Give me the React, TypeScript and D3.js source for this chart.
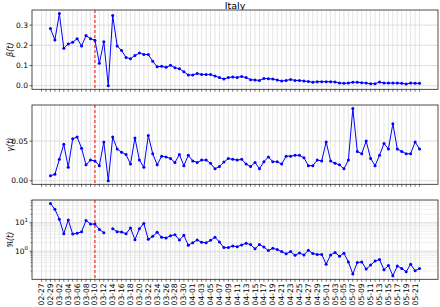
import React from "react";
import * as d3 from "d3";

// ---- data ----
const startDate = "2020-02-29";
const tickStart = "2020-02-27";
const tickEnd = "2020-05-22";
const lockdownDate = "2020-03-10";
const title = "Italy";

const beta: number[] = [
  0.283, 0.226, 0.357, 0.185, 0.207, 0.215, 0.233, 0.197, 0.248, 0.233,
  0.225, 0.111, 0.218, 0.0, 0.347, 0.197, 0.174, 0.14, 0.134, 0.149,
  0.162, 0.155, 0.154, 0.121, 0.094, 0.096, 0.091, 0.101, 0.089, 0.084,
  0.069, 0.053, 0.053, 0.06, 0.056, 0.055, 0.055, 0.048, 0.04,
  0.033, 0.041, 0.043, 0.041, 0.046, 0.04, 0.03, 0.028, 0.026, 0.036,
  0.035, 0.033, 0.028, 0.023, 0.026, 0.031, 0.026, 0.026, 0.023, 0.021,
  0.017, 0.02, 0.02, 0.02, 0.02, 0.018, 0.013, 0.012, 0.013, 0.017,
  0.017, 0.015, 0.013, 0.01, 0.01, 0.018, 0.013, 0.013, 0.013, 0.013,
  0.012, 0.008, 0.013, 0.012, 0.012,
];

const gamma: number[] = [
  0.0063, 0.008, 0.027, 0.046, 0.017, 0.053, 0.055, 0.041, 0.02, 0.026,
  0.025, 0.019, 0.049, 0.0, 0.055, 0.04, 0.036, 0.033, 0.021, 0.054,
  0.026, 0.017, 0.057, 0.034, 0.02, 0.031, 0.03, 0.028, 0.023, 0.033,
  0.019, 0.032, 0.025, 0.023, 0.026, 0.026, 0.022, 0.015, 0.018,
  0.0235, 0.028, 0.027, 0.026, 0.027, 0.021, 0.018, 0.023, 0.015, 0.024,
  0.03, 0.024, 0.024, 0.021, 0.031, 0.031, 0.032, 0.032, 0.029, 0.019,
  0.019, 0.026, 0.025, 0.049, 0.025, 0.022, 0.02, 0.015, 0.026, 0.091,
  0.037, 0.034, 0.05, 0.028, 0.019, 0.032, 0.047, 0.04, 0.072, 0.04,
  0.037, 0.034, 0.034, 0.049, 0.04,
];

const repro: (number | null)[] = [
  47.2, 30, 13.4, 4.13, 12.4, 4.03, 4.25, 4.85, 12.1, 8.98,
  8.98, 5.85, 4.48, null, 6.17, 4.85, 4.72, 4.13, 6.52, 2.55,
  6.17, 9.5, 2.62, 3.34, 4.6, 3.08, 2.92, 3.52, 3.81, 2.48,
  3.61, 1.62, 2.0, 2.48, 2.06, 2.0, 2.42, 3.08, 2.12,
  1.34, 1.34, 1.53, 1.45, 1.66, 1.9, 1.71, 1.21, 1.71, 1.41,
  1.05, 1.27, 1.14, 0.97, 0.81, 0.97, 0.72, 0.87, 0.74, 1.08,
  0.83, 0.77, 0.77, 0.35, 0.74, 0.9, 0.67, 0.85, 0.42, 0.158,
  0.4, 0.42, 0.235, 0.325, 0.45, 0.51, 0.223, 0.316, 0.138, 0.3,
  0.248, 0.19, 0.35, 0.206, 0.248,
];

const betaTicks = [0.0, 0.1, 0.2, 0.3];
const gammaTicks = [0.0, 0.05];
const reproTicks = [1, 10];

// ---- layout ----
const W = 440;
const H = 307;
const left = 32;
const right = 438;
const panels = [
  { top: 10, bottom: 89.3 },
  { top: 105, bottom: 184.3 },
  { top: 200, bottom: 279.3 },
];
const FONT = "DejaVu Sans, sans-serif";
const parse = d3.timeParse("%Y-%m-%d");
const fmt = d3.timeFormat("%m-%d");

const t0 = parse(startDate)!;
const dates = beta.map((_, i) => d3.timeDay.offset(t0, i));
const tickDates = d3.timeDay.range(parse(tickStart)!, d3.timeDay.offset(parse(tickEnd)!, 1));

const firstD = dates[0];
const lastD = dates[dates.length - 1];
const spanMs = +lastD - +firstD;
const x = d3
  .scaleTime()
  .domain([new Date(+firstD - spanMs * 0.05), new Date(+lastD + spanMs * 0.05)])
  .range([left, right]);

function linDomain(vals: number[]): [number, number] {
  const [mn, mx] = d3.extent(vals) as [number, number];
  const m = (mx - mn) * 0.05;
  return [mn - m, mx + m];
}
function logDomain(vals: number[]): [number, number] {
  const lv = vals.map((v) => Math.log10(v));
  const [mn, mx] = d3.extent(lv) as [number, number];
  const m = (mx - mn) * 0.05;
  return [Math.pow(10, mn - m), Math.pow(10, mx + m)];
}

const yBeta = d3.scaleLinear().domain(linDomain(beta)).range([panels[0].bottom, panels[0].top]);
const yGamma = d3.scaleLinear().domain(linDomain(gamma)).range([panels[1].bottom, panels[1].top]);
const rVals = repro.filter((v): v is number => v != null);
const yR = d3.scaleLog().domain(logDomain(rVals)).range([panels[2].bottom, panels[2].top]);

const minorLog: number[] = [];
for (let e = -2; e <= 2; e++) {
  for (let k = 2; k <= 9; k++) {
    const v = k * Math.pow(10, e);
    const [a, b] = yR.domain();
    if (v > a && v < b) minorLog.push(v);
  }
}

type Series = (number | null)[];

function Panel({
  idx,
  values,
  y,
  ticks,
  minor,
  label,
  tickLabel,
  showX,
}: {
  idx: number;
  values: Series;
  y: (v: number) => number;
  ticks: number[];
  minor?: number[];
  label: string;
  tickLabel: (v: number) => React.ReactNode;
  showX: boolean;
}) {
  const { top, bottom } = panels[idx];
  const line = d3
    .line<number | null>()
    .defined((d) => d != null)
    .x((_, i) => x(dates[i]))
    .y((d) => y(d as number));
  const xl = x(parse(lockdownDate)!);
  const cy = (top + bottom) / 2;
  return (
    <g>
      <rect x={left} y={top} width={right - left} height={bottom - top} fill="#fff" />
      {(minor || []).map((v, i) => (
        <line key={"mg" + i} x1={left} x2={right} y1={y(v)} y2={y(v)} stroke="#e6e6e6" strokeWidth={0.6} />
      ))}
      {tickDates.map((d, i) => (
        <line key={"vg" + i} x1={x(d)} x2={x(d)} y1={top} y2={bottom} stroke="#d8d8d8" strokeWidth={0.7} />
      ))}
      {ticks.map((v, i) => (
        <line key={"hg" + i} x1={left} x2={right} y1={y(v)} y2={y(v)} stroke="#d6d6d6" strokeWidth={0.8} />
      ))}
      <line x1={xl} x2={xl} y1={top} y2={bottom} stroke="#ff0000" strokeWidth={1} strokeDasharray="3,2" />
      <path d={line(values) || ""} fill="none" stroke="#0000ff" strokeWidth={1} />
      {values.map((v, i) =>
        v == null ? null : <circle key={"p" + i} cx={x(dates[i])} cy={y(v)} r={1.5} fill="#0000ff" />
      )}
      <rect x={left} y={top} width={right - left} height={bottom - top} fill="none" stroke="#222" strokeWidth={0.8} />
      {tickDates.map((d, i) => (
        <line key={"xt" + i} x1={x(d)} x2={x(d)} y1={bottom} y2={bottom + 2.5} stroke="#222" strokeWidth={0.6} />
      ))}
      {showX &&
        tickDates.map((d, i) =>
          i % 2 === 0 ? (
            <text
              key={"xl" + i}
              transform={`translate(${x(d)},${bottom + 4}) rotate(-90)`}
              textAnchor="end"
              dominantBaseline="central"
              fontFamily={FONT}
              fontSize={7.6}
              fill="#000"
            >
              {fmt(d)}
            </text>
          ) : null
        )}
      {(minor || []).map((v, i) => (
        <line key={"myt" + i} x1={left - 1.5} x2={left} y1={y(v)} y2={y(v)} stroke="#222" strokeWidth={0.5} />
      ))}
      {ticks.map((v, i) => (
        <g key={"yt" + i}>
          <line x1={left - 2.5} x2={left} y1={y(v)} y2={y(v)} stroke="#222" strokeWidth={0.7} />
          <text x={left - 4} y={y(v)} textAnchor="end" dominantBaseline="central" fontFamily={FONT} fontSize={7.5} fill="#000">
            {tickLabel(v)}
          </text>
        </g>
      ))}
      <text
        transform={`translate(10,${cy}) rotate(-90)`}
        textAnchor="middle"
        dominantBaseline="central"
        fontFamily={FONT}
        fontSize={8}
        fontStyle="italic"
        fill="#000"
      >
        {label}
      </text>
    </g>
  );
}

export default function App() {
  return (
    <div style={{ position: "fixed", left: 0, top: 0 }}>
      <svg width={W} height={H} viewBox={`0 0 ${W} ${H}`} style={{ display: "block", background: "#fff" }}>
        <rect width={W} height={H} fill="#fff" />
        <text x={(left + right) / 2} y={8.5} textAnchor="middle" fontFamily={FONT} fontSize={9.5} fill="#000">
          {title}
        </text>
        <Panel
          idx={0}
          values={beta}
          y={yBeta}
          ticks={betaTicks}
          label="β(t)"
          tickLabel={(v) => d3.format(".1f")(v)}
          showX={false}
        />
        <Panel
          idx={1}
          values={gamma}
          y={yGamma}
          ticks={gammaTicks}
          label="γ(t)"
          tickLabel={(v) => d3.format(".2f")(v)}
          showX={false}
        />
        <Panel
          idx={2}
          values={repro}
          y={yR}
          ticks={reproTicks}
          minor={minorLog}
          label="ℜ(t)"
          tickLabel={(v) => (
            <>
              10
              <tspan dy={-3} fontSize={5.5}>
                {Math.round(Math.log10(v))}
              </tspan>
            </>
          )}
          showX={true}
        />
      </svg>
    </div>
  );
}
